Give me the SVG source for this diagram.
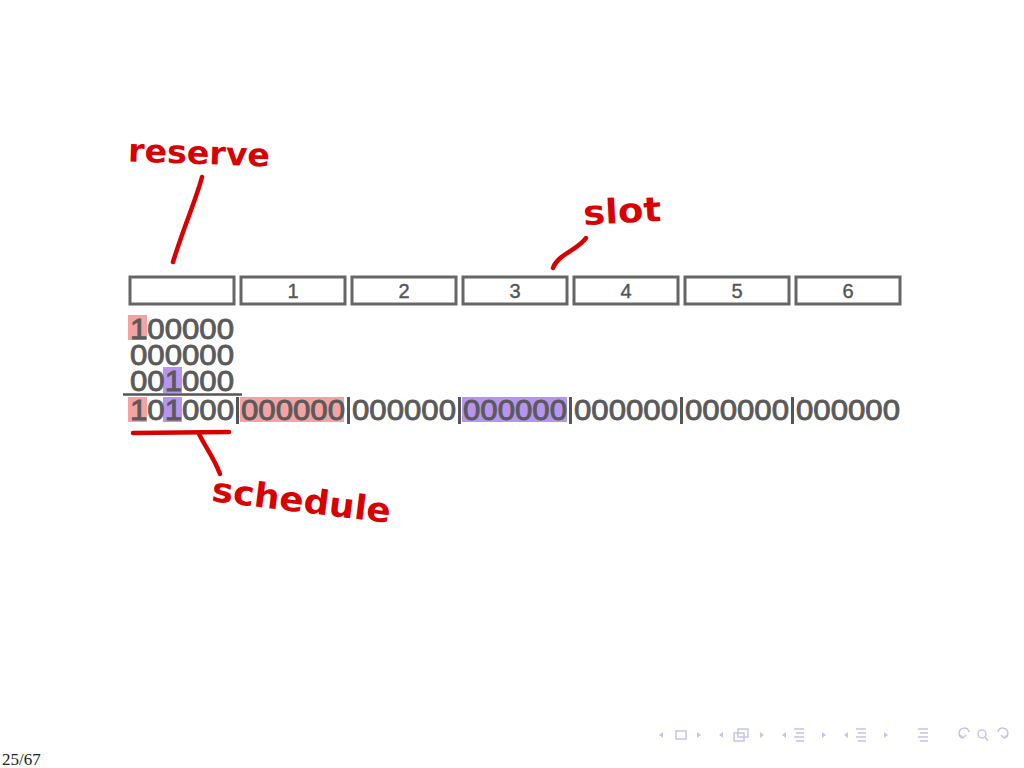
<svg xmlns="http://www.w3.org/2000/svg" width="1024" height="768" viewBox="0 0 1024 768">
<style>
.box{fill:#fff;stroke:#666;stroke-width:3}
.lbl{font-family:"Liberation Sans",Arial,sans-serif;font-size:20px;fill:#555;stroke:#555;stroke-width:0.4;text-anchor:middle}
.bits{font-family:"Liberation Sans",Arial,sans-serif;font-size:30px;fill:#5a5a5a;stroke:#5a5a5a;stroke-width:0.9}
.bar{stroke:#555;stroke-width:3}
.red{fill:#f3a3a3}
.pur{fill:#b795ef}
.hand{font-family:"DejaVu Sans","Noto Sans",sans-serif;font-weight:bold;fill:#d80000}
.ink{fill:none;stroke:#d80000;stroke-width:4.5;stroke-linecap:round;stroke-linejoin:round}
.nav{fill:none;stroke:#c4c4ec;stroke-width:1.5}
.navf{fill:#c4c4ec}
</style>
<rect width="1024" height="768" fill="#fff"/>

<g id="slots">
  <rect class="box" x="130" y="277" width="104" height="27"/>
  <rect class="box" x="241" y="277" width="104" height="27"/>
  <rect class="box" x="352" y="277" width="104" height="27"/>
  <rect class="box" x="463" y="277" width="104" height="27"/>
  <rect class="box" x="574" y="277" width="104" height="27"/>
  <rect class="box" x="685" y="277" width="104" height="27"/>
  <rect class="box" x="796" y="277" width="104" height="27"/>
  <text class="lbl" x="293" y="298">1</text>
  <text class="lbl" x="404" y="298">2</text>
  <text class="lbl" x="515" y="298">3</text>
  <text class="lbl" x="626" y="298">4</text>
  <text class="lbl" x="737" y="298">5</text>
  <text class="lbl" x="848" y="298">6</text>
</g>

<g id="highlights">
  <rect class="red" x="128" y="315" width="19" height="25"/>
  <rect class="pur" x="163" y="367" width="19" height="26"/>
  <rect class="red" x="128" y="397" width="19" height="25"/>
  <rect class="pur" x="163" y="397" width="19" height="25"/>
  <rect class="red" x="240" y="397" width="104" height="25"/>
  <rect class="pur" x="462" y="397" width="105" height="25"/>
</g>

<g id="bitrows">
  <text class="bits" x="130" y="339" textLength="104" lengthAdjust="spacingAndGlyphs">100000</text>
  <text class="bits" x="130" y="365" textLength="104" lengthAdjust="spacingAndGlyphs">000000</text>
  <text class="bits" x="130" y="391" textLength="104" lengthAdjust="spacingAndGlyphs">001000</text>
  <line x1="123" y1="394.5" x2="242" y2="394.5" stroke="#555" stroke-width="2.5"/>
  <text class="bits" x="130" y="420" textLength="104" lengthAdjust="spacingAndGlyphs">101000</text>
  <text class="bits" x="241" y="420" textLength="104" lengthAdjust="spacingAndGlyphs">000000</text>
  <text class="bits" x="352" y="420" textLength="104" lengthAdjust="spacingAndGlyphs">000000</text>
  <text class="bits" x="463" y="420" textLength="104" lengthAdjust="spacingAndGlyphs">000000</text>
  <text class="bits" x="574" y="420" textLength="104" lengthAdjust="spacingAndGlyphs">000000</text>
  <text class="bits" x="685" y="420" textLength="104" lengthAdjust="spacingAndGlyphs">000000</text>
  <text class="bits" x="796" y="420" textLength="104" lengthAdjust="spacingAndGlyphs">000000</text>
  <line class="bar" x1="237.5" y1="397" x2="237.5" y2="424"/>
  <line class="bar" x1="348.5" y1="397" x2="348.5" y2="424"/>
  <line class="bar" x1="459.5" y1="397" x2="459.5" y2="424"/>
  <line class="bar" x1="570.5" y1="397" x2="570.5" y2="424"/>
  <line class="bar" x1="681.5" y1="397" x2="681.5" y2="424"/>
  <line class="bar" x1="792.5" y1="397" x2="792.5" y2="424"/>
</g>

<g id="reserve">
  <text class="hand" x="128" y="164" font-size="32" textLength="142" lengthAdjust="spacingAndGlyphs" transform="rotate(2 200 155)">reserve</text>
</g>
<g id="slot">
  <text class="hand" x="583" y="223" font-size="34" textLength="78" lengthAdjust="spacingAndGlyphs" transform="rotate(-3 620 210)">slot</text>
</g>
<g id="schedule">
  <text class="hand" x="211" y="512" font-size="34" textLength="180" lengthAdjust="spacingAndGlyphs" transform="rotate(7 300 505)">schedule</text>
</g>

<g id="connectors">
  <path class="ink" d="M202 177 C196 200 184 226 173 262"/>
  <path class="ink" d="M586 238 C578 250 558 254 553 268"/>
  <path class="ink" d="M133 433 L229 432"/>
  <path class="ink" d="M199 434 C206 448 214 458 220 474"/>
</g>

<g id="footer">
  <text x="2" y="765" font-family="'Liberation Serif',serif" font-size="17" fill="#222">25/67</text>
  <g id="nav">
    <path class="navf" d="M663 732 l-4 3 l4 3z"/>
    <rect class="nav" x="676" y="731" width="10" height="8"/>
    <path class="navf" d="M697 732 l4 3 l-4 3z"/>
    <path class="navf" d="M723 732 l-4 3 l4 3z"/>
    <rect class="nav" x="734" y="733" width="10" height="8"/>
    <rect class="nav" x="738" y="729" width="10" height="8"/>
    <path class="navf" d="M760 732 l4 3 l-4 3z"/>
    <path class="navf" d="M786 732 l-4 3 l4 3z"/>
    <path class="nav" d="M794 729 h10 M796 733 h8 M794 737 h10 M796 741 h8"/>
    <path class="navf" d="M822 732 l4 3 l-4 3z"/>
    <path class="navf" d="M848 732 l-4 3 l4 3z"/>
    <path class="nav" d="M856 729 h10 M858 733 h8 M856 737 h10 M858 741 h8"/>
    <path class="navf" d="M884 732 l4 3 l-4 3z"/>
    <path class="nav" d="M918 729 h10 M920 733 h8 M918 737 h10 M920 741 h8"/>
    <path class="nav" d="M963 738 a5 5 0 1 1 6 -6 M960 735 l3 3 l3 -3"/>
    <circle class="nav" cx="982" cy="734" r="4"/>
    <path class="nav" d="M985 737 l3 4"/>
    <path class="nav" d="M1004 738 a5 5 0 1 0 -6 -6 M1007 735 l-3 3 l-3 -3"/>
  </g>
</g>
</svg>
